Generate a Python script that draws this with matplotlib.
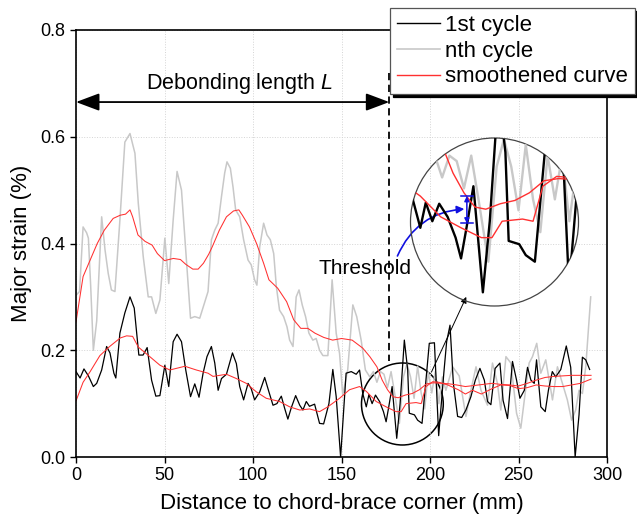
import numpy as np
import matplotlib; matplotlib.use("Agg")
import matplotlib.pyplot as plt
from matplotlib.patches import Circle, Ellipse

plt.rcParams['font.family'] = ['Liberation Sans', 'DejaVu Sans']
plt.rcParams['mathtext.fontset'] = 'custom'
plt.rcParams['mathtext.rm'] = 'Liberation Sans'
plt.rcParams['mathtext.it'] = 'Liberation Sans:italic'

# 1st cycle (black)
x1 = [0, 2.3, 4.5, 7, 9.8, 11.7, 14.5, 17.3, 19.2, 21.4, 22.5, 24.8, 27.6, 30.5, 32.9, 35.5, 37.9, 40.2,
      42.7, 45.1, 47.4, 50.2, 52.4, 54.9, 57.1, 59.6, 62, 64.7, 67.1, 69.5, 71.8, 74, 76.5, 78.4, 80.3,
      82.2, 85, 88.4, 90.6, 92.5, 94.7, 97.2, 99, 100.9, 103.8, 106.6, 109, 111.3, 113.5, 116, 117.9,
      119.7, 121.6, 124.1, 126.4, 128.2, 130.1, 131.9, 134.8, 137.6, 139.9, 142.9, 145.1, 147, 149.5,
      152.6, 155.5, 158.3, 160.2, 162, 164, 165.5, 167.3, 169.2, 171.5, 173.7, 175.2, 176.7, 178.6,
      181.2, 183.1, 185.5, 187.4, 188.3, 191.2, 193, 195.5, 197.7, 199.6, 202.5, 204.9, 207.8, 209.4,
      211.3, 213.2, 215.6, 217.9, 220.3, 223.1, 225.6, 228.2, 230.7, 232.5, 234.4, 236.8, 239.5, 241.3,
      243.8, 246.6, 248.9, 250.8, 253.3, 255.1, 257, 258.9, 260.2, 262.6, 265.1, 266.9, 269.1, 271,
      273.9, 277, 279.5, 282, 284.2, 286.1, 288, 290.2]
y1 = [0.16, 0.148, 0.165, 0.152, 0.132, 0.138, 0.163, 0.207, 0.195, 0.157, 0.148, 0.232, 0.27, 0.30, 0.279,
      0.191, 0.191, 0.205, 0.144, 0.114, 0.115, 0.172, 0.132, 0.216, 0.23, 0.216, 0.163, 0.113, 0.137,
      0.112, 0.157, 0.188, 0.207, 0.176, 0.125, 0.147, 0.155, 0.195, 0.175, 0.132, 0.107, 0.138, 0.128,
      0.107, 0.122, 0.149, 0.122, 0.097, 0.10, 0.114, 0.091, 0.071, 0.092, 0.115, 0.097, 0.088, 0.104,
      0.095, 0.099, 0.063, 0.062, 0.10, 0.164, 0.113, 0.0, 0.157, 0.16, 0.155, 0.163, 0.119, 0.094, 0.117,
      0.10, 0.116, 0.104, 0.085, 0.066, 0.094, 0.132, 0.035, 0.10, 0.219, 0.163, 0.082, 0.079, 0.069,
      0.063, 0.144, 0.213, 0.214, 0.04, 0.157, 0.216, 0.247, 0.138, 0.076, 0.074, 0.088, 0.113, 0.144,
      0.166, 0.144, 0.104, 0.098, 0.166, 0.176, 0.106, 0.072, 0.179, 0.144, 0.11, 0.125, 0.168, 0.144,
      0.138, 0.182, 0.094, 0.085, 0.125, 0.16, 0.15, 0.164, 0.208, 0.168, 0.0, 0.079, 0.187, 0.182, 0.164]

# nth cycle (grey)
xn = [0, 2, 4, 6, 7, 8.3, 9.8, 11.7, 14.5, 16.4, 18.2, 20, 22, 24.8, 27.6, 30.5, 33.3, 35.2, 38, 40.8,
      42.7, 45.1, 47.4, 50.2, 52.4, 54.9, 57.1, 59.6, 62.4, 64.7, 67.1, 69.9, 72.7, 74.6, 76.5, 78.4,
      80.3, 82.2, 84, 85.3, 87.2, 88.7, 90.2, 92.5, 94.7, 97.2, 99, 100.9, 102.2, 103.8, 106, 107.9,
      109.8, 111.7, 113.2, 115, 117.3, 119.2, 120.7, 122.6, 124.4, 126, 127.8, 129.7, 131.6, 133.8,
      135.7, 137.6, 139.5, 142.3, 144.7, 147, 148.9, 150.7, 153.5, 156.4, 158.6, 161.1, 163.5, 166, 168,
      170, 172, 174, 176, 178, 180, 182.7, 185, 187, 189, 191, 193, 195, 197, 199, 201, 203, 205, 207,
      209, 212.8, 216.5, 220.3, 223.1, 226, 228.8, 232.5, 235.3, 238.1, 240, 242.9, 245.7, 248.9, 251.3,
      254.2, 256, 257.9, 260.3, 262.6, 265.4, 269.2, 272, 274.8, 277.6, 280, 282.3, 284.2, 286.1, 288,
      290.8]
yn = [0.303, 0.31, 0.431, 0.42, 0.41, 0.32, 0.20, 0.255, 0.45, 0.388, 0.344, 0.313, 0.31, 0.444, 0.59,
      0.606, 0.569, 0.475, 0.375, 0.30, 0.30, 0.269, 0.294, 0.41, 0.325, 0.444, 0.535, 0.50, 0.369, 0.26,
      0.263, 0.26, 0.29, 0.31, 0.407, 0.425, 0.438, 0.488, 0.532, 0.553, 0.541, 0.506, 0.463, 0.45, 0.407,
      0.369, 0.36, 0.332, 0.322, 0.394, 0.438, 0.416, 0.407, 0.381, 0.319, 0.275, 0.263, 0.244, 0.219,
      0.207, 0.30, 0.313, 0.285, 0.263, 0.232, 0.219, 0.222, 0.20, 0.19, 0.19, 0.332, 0.232, 0.194, 0.116,
      0.163, 0.285, 0.263, 0.219, 0.163, 0.15, 0.16, 0.14, 0.16, 0.155, 0.13, 0.16, 0.12, 0.063, 0.15,
      0.175, 0.15, 0.11, 0.17, 0.12, 0.09, 0.16, 0.12, 0.16, 0.10, 0.15, 0.125, 0.169, 0.152, 0.076,
      0.125, 0.169, 0.125, 0.097, 0.176, 0.138, 0.088, 0.188, 0.176, 0.082, 0.054, 0.131, 0.176, 0.188,
      0.213, 0.157, 0.182, 0.107, 0.169, 0.138, 0.107, 0.069, 0.088, 0.125, 0.119, 0.169, 0.30]

# smoothened curves (red)
xs1 = [0, 4, 8, 13.5, 19, 25, 28.6, 32, 35.2, 41.7, 47.4, 53, 61.5, 68, 74.6, 77.4, 85, 90.6, 96.2,
       101.9, 107.5, 115, 120.7, 126.4, 132, 137.6, 142.3, 148.9, 154.5, 160.2, 164, 169.6, 175.2,
       180.8, 183.7, 186.5, 192.1, 195, 197.7, 201.5, 205, 210, 216, 220, 224, 229, 235, 240, 245, 250,
       255, 260, 265, 270, 275, 280, 285, 291]
ys1 = [0.105, 0.14, 0.16, 0.19, 0.207, 0.223, 0.227, 0.226, 0.206, 0.188, 0.172, 0.163, 0.17, 0.163,
       0.157, 0.151, 0.155, 0.147, 0.138, 0.122, 0.11, 0.104, 0.094, 0.088, 0.09, 0.085, 0.094, 0.11,
       0.126, 0.132, 0.123, 0.104, 0.094, 0.085, 0.085, 0.10, 0.102, 0.10, 0.132, 0.141, 0.14, 0.135,
       0.126, 0.118, 0.125, 0.118, 0.128, 0.135, 0.134, 0.128, 0.13, 0.135, 0.133, 0.132, 0.132, 0.135,
       0.138, 0.146]
xsn = [0, 4, 8, 12, 16, 21, 25, 28, 30.5, 32, 35, 39, 43, 46, 50, 55, 59, 62, 66, 69, 72, 75, 77, 81, 85,
       89, 92, 94, 98, 102, 106, 109, 114, 119, 123, 127, 131, 135, 140, 145, 150, 156, 162, 166, 170,
       173, 176, 179, 182, 186, 190, 194, 198, 202, 207, 211, 215, 220, 225, 230, 235, 240, 245, 250,
       255, 260, 265, 270, 275, 280, 285, 291]
ysn = [0.253, 0.338, 0.369, 0.40, 0.425, 0.447, 0.453, 0.455, 0.463, 0.45, 0.416, 0.404, 0.397, 0.381,
       0.368, 0.372, 0.37, 0.361, 0.352, 0.352, 0.363, 0.38, 0.394, 0.425, 0.45, 0.461, 0.463, 0.453,
       0.431, 0.40, 0.363, 0.332, 0.316, 0.291, 0.257, 0.241, 0.241, 0.232, 0.224, 0.219, 0.222, 0.219,
       0.204, 0.188, 0.169, 0.144, 0.126, 0.113, 0.111, 0.116, 0.119, 0.126, 0.137, 0.139, 0.138, 0.137,
       0.135, 0.132, 0.134, 0.136, 0.138, 0.136, 0.135, 0.133, 0.138, 0.144, 0.149, 0.151, 0.152, 0.153,
       0.153, 0.153]

debond_L = 177.0
zoom_c = (184.4, 0.0993)     # centre of the zoomed region
zoom_r = (23.1, 0.0768)      # half-size of the zoomed region (x, y)

GREY, RED = "#c8c8c8", "#ff3030"

fig = plt.figure(figsize=(6.37, 5.26), dpi=100)
ax = fig.add_axes([76 / 637, 1 - 457 / 526, 531 / 637, 427 / 526])

l2, = ax.plot(xn, yn, color=GREY, lw=1.1, label="nth cycle")
l1, = ax.plot(x1, y1, color="black", lw=0.9, label="1st cycle")
l3, = ax.plot(xsn, ysn, color=RED, lw=0.75, label="smoothened curve")
ax.plot(xs1, ys1, color=RED, lw=0.75)

ax.set_xlim(0, 300)
ax.set_ylim(0, 0.8)
ax.set_xticks(np.arange(0, 301, 50))
ax.set_yticks(np.arange(0, 0.81, 0.2))
ax.yaxis.set_major_formatter(matplotlib.ticker.FormatStrFormatter("%.1f"))
ax.grid(True, ls=":", color="#d4d4d4", lw=0.7)
ax.tick_params(direction="out", length=4.5, width=1, labelsize=13, pad=3)
for s in ax.spines.values():
    s.set_linewidth(1.2)
ax.set_xlabel("Distance to chord-brace corner (mm)", fontsize=16, labelpad=6)
ax.set_ylabel("Major strain (%)", fontsize=16, labelpad=6)

# debonding length
ax.annotate("", xy=(0, 0.665), xytext=(debond_L, 0.665),
            arrowprops=dict(arrowstyle="<|-|>,head_length=1.2,head_width=0.45", mutation_scale=12,
                            color="black", lw=1.3, shrinkA=0, shrinkB=0))
ax.plot([debond_L, debond_L], [0.72, 0.18], color="black", ls=(0, (4, 2.5)), lw=1.3)
ax.text(92.5, 0.699, "Debonding length $L$", fontsize=15.5, ha="center", va="center")

# small circle + pointer to the zoom
ax.add_patch(Ellipse(zoom_c, 2 * zoom_r[0], 2 * zoom_r[1], fill=False, ec="black", lw=1.1))
ax.annotate("", xy=(220.5, 0.30), xytext=(200.8, 0.159),
            arrowprops=dict(arrowstyle="-|>", color="black", lw=0.7, mutation_scale=9,
                            shrinkA=0, shrinkB=0))

ax.text(163.3, 0.354, "Threshold", fontsize=15, ha="center", va="center")
ax.annotate("", xy=(219.4, 0.4646), xytext=(181.6, 0.3766),
            arrowprops=dict(arrowstyle="-|>", color="#1010e0", lw=1.2, mutation_scale=11,
                            connectionstyle="arc3,rad=-0.3", shrinkA=0, shrinkB=0))

# zoomed inset, clipped to a circle
axi = fig.add_axes([410.5 / 637, 1 - 306 / 526, 168 / 637, 168 / 526])
axi.set_facecolor("none")
clip = Circle((0.5, 0.5), 0.5, transform=axi.transAxes)
for xx, yy, c, w in [(xn, yn, GREY, 1.7), (x1, y1, "black", 1.7), (xsn, ysn, RED, 1.0), (xs1, ys1, RED, 1.0)]:
    ln, = axi.plot(xx, yy, color=c, lw=w)
    ln.set_clip_path(clip)
axi.set_xlim(zoom_c[0] - zoom_r[0], zoom_c[0] + zoom_r[0])
axi.set_ylim(zoom_c[1] - zoom_r[1], zoom_c[1] + zoom_r[1])
axi.axis("off")
axi.add_patch(Circle((0.5, 0.5), 0.5, transform=axi.transAxes, fill=False, ec="#444444", lw=0.9,
                     clip_on=False))
axi.annotate("", xy=(176.8, 0.123), xytext=(176.8, 0.098),
             arrowprops=dict(arrowstyle="<|-|>", color="#1010e0", lw=1.1, mutation_scale=7,
                             shrinkA=0, shrinkB=0))
axi.plot([175.1, 178.5], [0.123, 0.123], color="#1010e0", lw=1.1)
axi.plot([175.1, 178.5], [0.098, 0.098], color="#1010e0", lw=1.1)

leg = fig.legend(handles=[l1, l2, l3], loc="upper right", bbox_to_anchor=(635 / 637, 1 - 8 / 526),
                 fontsize=16, frameon=True, fancybox=False, shadow={"color": "black", "alpha": 1},
                 edgecolor="#555555", framealpha=1, borderpad=0.3, labelspacing=0.22,
                 handlelength=1.95, handletextpad=0.25, borderaxespad=0)
leg.get_frame().set_linewidth(0.9)
for h, w in zip(leg.legend_handles, [1.0, 1.2, 1.0]):
    h.set_linewidth(w)

fig.savefig("out.png", dpi=100)
